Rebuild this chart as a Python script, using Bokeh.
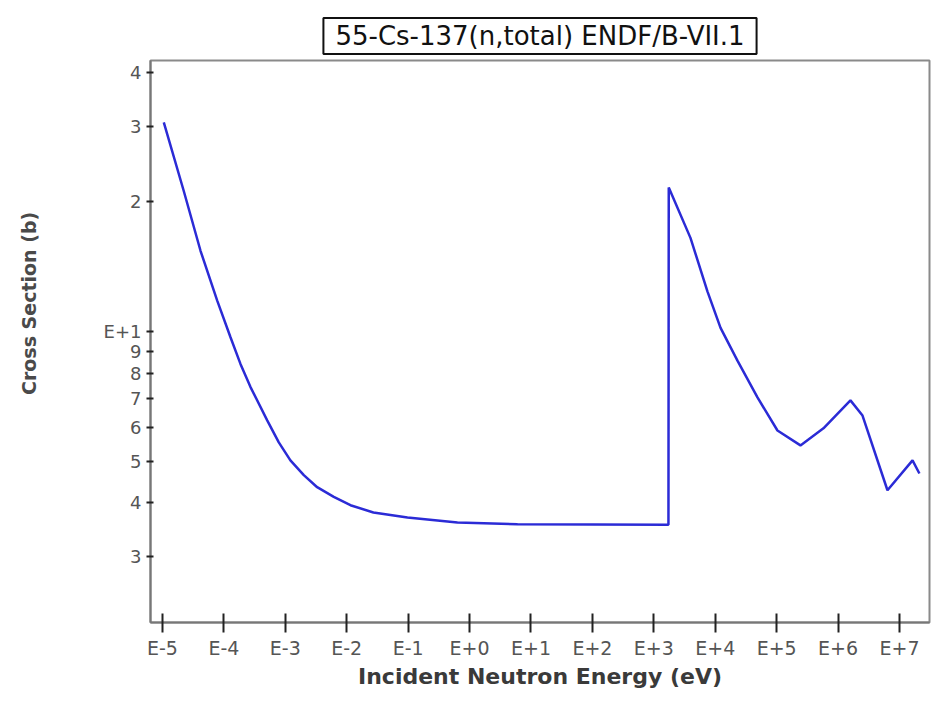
from bokeh.plotting import figure
from bokeh.models import FixedTicker, CustomJSTickFormatter, Title, Div
from bokeh.layouts import row
from bokeh.embed import file_html
from bokeh.resources import INLINE

# --- data (energy in eV, cross section in barns) ---
energy_ev = [1.05e-5, 2.22e-5, 4.16e-5, 7.78e-5, 1.28e-4, 1.86e-4, 2.71e-4, 5.07e-4,
             7.83e-4, 1.21e-3, 2.00e-3, 3.30e-3, 6.15e-3, 1.15e-2, 2.72e-2, 9.75e-2,
             6.35e-1, 6.03, 1.73e3, 1.75e3,
             3.95e3, 7.46e3, 1.22e4, 2.30e4, 4.87e4, 1.03e5, 2.44e5, 5.78e5,
             1.59e6, 2.50e6, 6.37e6, 1.63e7, 2.11e7]
cross_section_b = [30.6, 21.2, 15.4, 11.8, 9.70, 8.41, 7.43, 6.22,
                   5.53, 5.02, 4.64, 4.35, 4.13, 3.95, 3.80, 3.70,
                   3.60, 3.57, 3.56, 21.6,
                   16.5, 12.4, 10.2, 8.56, 7.03, 5.89, 5.44, 5.96,
                   6.92, 6.38, 4.28, 5.02, 4.68]

x_tick_exponents = [-5, -4, -3, -2, -1, 0, 1, 2, 3, 4, 5, 6, 7]
y_tick_values = [3, 4, 5, 6, 7, 8, 9, 10, 20, 30, 40]

title_text = "55-Cs-137(n,total) ENDF/B-VII.1"
x_label = "Incident Neutron Energy (eV)"
y_label = "Cross Section (b)"

FONT = "DejaVu Sans"
LABEL_W = 60

p = figure(width=945 - LABEL_W, height=713, x_axis_type="log", y_axis_type="log",
           x_range=(6.38e-6, 3.08e7), y_range=(2.11, 42.6),
           output_backend="svg", toolbar_location=None,
           min_border_left=150 - LABEL_W, min_border_right=16, min_border_top=60,
           min_border_bottom=91)

p.background_fill_color = "white"
p.border_fill_color = "white"
p.outline_line_color = "#8a8a8a"
p.outline_line_width = 2
p.xgrid.visible = False
p.ygrid.visible = False

# title in a box
t = Title(text=title_text, align="center", text_font=FONT, text_font_size="26px",
          text_font_style="normal", text_color="#111111",
          border_line_color="#111111", border_line_width=2,
          background_fill_color="white",
          padding=dict(left=12, right=12, top=3, bottom=3), standoff=13)
p.title = t

# x axis
xa = p.xaxis[0]
xa.ticker = FixedTicker(ticks=[10.0 ** e for e in x_tick_exponents])
xa.formatter = CustomJSTickFormatter(code="""
const e = Math.round(Math.log10(tick));
return "E" + (e >= 0 ? "+" : "-") + Math.abs(e);
""")
xa.axis_label = x_label
xa.axis_label_text_font = FONT
xa.axis_label_text_font_size = "22px"
xa.axis_label_text_font_style = "bold"
xa.axis_label_text_color = "#3a3a3a"
xa.axis_label_standoff = 2
xa.major_label_text_font = FONT
xa.major_label_text_font_size = "19px"
xa.major_label_text_color = "#555555"
xa.major_label_standoff = 4
xa.major_tick_in = 9
xa.major_tick_out = 10
xa.major_tick_line_width = 2
xa.major_tick_line_color = "#222222"
xa.minor_tick_line_color = None
xa.axis_line_color = "#777777"
xa.axis_line_width = 2

# y axis
ya = p.yaxis[0]
ya.ticker = FixedTicker(ticks=y_tick_values)
ya.formatter = CustomJSTickFormatter(code="""
const e = Math.floor(Math.log10(tick) + 1e-9);
const m = Math.round(tick / Math.pow(10, e));
return m == 1 ? "E+" + e : "" + m;
""")
ya.major_label_text_font = FONT
ya.major_label_text_font_size = "18px"
ya.major_label_text_color = "#555555"
ya.major_label_standoff = 5
ya.major_tick_in = 3
ya.major_tick_out = 4
ya.major_tick_line_width = 2
ya.major_tick_line_color = "#222222"
ya.minor_tick_line_color = None
ya.axis_line_color = "#777777"
ya.axis_line_width = 2

p.line(energy_ev, cross_section_b, line_color="#2b2bd6", line_width=2.5)

# rotated y-axis title placed left of the plot (off-centre, as in the reference)
ylabel_div = Div(text=y_label, width=LABEL_W, height=713, margin=0, styles={
    "writing-mode": "vertical-rl",
    "transform": "rotate(180deg)",
    "font-family": FONT,
    "font-size": "19px",
    "font-weight": "bold",
    "color": "#4a4a4a",
    "line-height": "22px",
    "white-space": "nowrap",
    "box-sizing": "border-box",
    "padding-top": "318px",
    "padding-right": "18px",
    "background-color": "white",
})

layout = row(ylabel_div, p, spacing=0)

open("out.html", "w").write(file_html(layout, INLINE))
